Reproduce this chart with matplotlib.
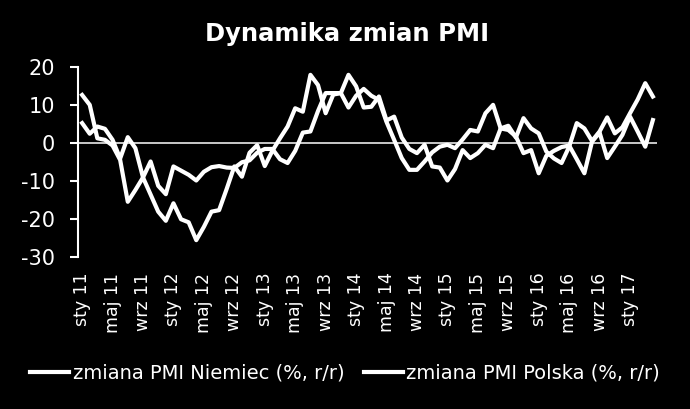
import matplotlib.pyplot as plt
import numpy as np

plt.rcParams['axes.unicode_minus'] = False

# zmiana PMI r/r, miesiecznie od sty 11 do kwi 17
niemcy = [12.7, 10.1, 1.3, 0.9, -0.6, -4.4, -15.4, -12.3, -9.0, -13.5,
          -18.0, -20.4, -15.8, -20.0, -20.8, -25.5, -22.0, -18.0, -17.6, -12.0,
          -6.1, -8.8, -2.5, -0.5, -6.0, -2.0, 1.3, 4.4, 9.2, 8.3,
          18.0, 15.3, 7.9, 12.8, 13.2, 18.0, 15.0, 9.4, 9.6, 12.3,
          6.0, 7.0, 1.5, -1.5, -2.6, -0.4, -6.1, -6.4, -9.8, -6.8,
          -1.8, -3.9, -2.6, -0.4, -1.3, 3.9, 4.6, 1.5, 6.6, 3.9,
          2.6, -2.2, -4.0, -5.2, -0.9, 5.3, 3.9, 0.6, 3.1, 6.8,
          2.6, 4.2, 7.9, 11.5, 15.8, 12.3]
polska = [5.3, 2.5, 4.4, 3.8, 0.9, -4.0, 1.6, -1.3, -9.0, -4.8,
          -11.2, -13.4, -6.1, -7.2, -8.3, -9.8, -7.5, -6.3, -6.0, -6.4,
          -6.5, -5.0, -4.5, -2.5, -1.5, -1.5, -4.2, -5.2, -2.0, 2.8,
          3.1, 8.5, 13.2, 13.2, 13.2, 9.4, 12.5, 14.3, 12.5, 11.4,
          5.6, 0.9, -3.9, -7.0, -7.0, -4.8, -2.4, -0.9, -0.4, -1.3,
          1.0, 3.5, 3.1, 7.9, 10.1, 3.9, 3.5, 1.8, -2.6, -1.8,
          -7.9, -3.3, -2.0, -1.0, -0.6, -4.2, -7.9, 0.4, 2.8, -3.9,
          -0.9, 2.2, 7.0, 3.1, -0.9, 6.1]
etykiety = ['sty 11', 'maj 11', 'wrz 11', 'sty 12', 'maj 12', 'wrz 12',
            'sty 13', 'maj 13', 'wrz 13', 'sty 14', 'maj 14', 'wrz 14',
            'sty 15', 'maj 15', 'wrz 15', 'sty 16', 'maj 16', 'wrz 16',
            'sty 17']

x = np.arange(len(niemcy))

fig = plt.figure(figsize=(6.9, 4.09), dpi=100, facecolor='black')
ax = fig.add_axes([0.1135, 0.371, 0.8382, 0.4646], facecolor='black')

ax.plot(x, niemcy, color='white', lw=3, label='zmiana PMI Niemiec (%, r/r)')
ax.plot(x, polska, color='white', lw=3, label='zmiana PMI Polska (%, r/r)')
ax.axhline(0, color='white', lw=1.1, zorder=1)

ax.set_xlim(-0.5, len(x) - 0.5)
ax.set_ylim(-30, 20)
ax.set_yticks([20, 10, 0, -10, -20, -30])
ax.set_xticks(x[::4])
ax.set_xticklabels(etykiety, rotation=90)

for s in ['top', 'right', 'bottom']:
    ax.spines[s].set_visible(False)
ax.spines['left'].set_color('white')
ax.spines['left'].set_linewidth(1.5)

ax.tick_params(axis='y', colors='white', labelsize=15, length=6, width=1.5, pad=11)
ax.tick_params(axis='x', colors='white', labelsize=12.5, length=0, pad=11)

fig.text(0.503, 0.918, 'Dynamika zmian PMI', color='white', fontsize=17.5,
         fontweight='bold', ha='center', va='center')

leg = fig.legend(loc='center', bbox_to_anchor=(0.5, 0.088), ncol=2, frameon=False,
                 fontsize=14, handlelength=2.0, handletextpad=0.2, columnspacing=1.0)
for t in leg.get_texts():
    t.set_color('white')

fig.savefig('out.png', dpi=100, facecolor='black')
